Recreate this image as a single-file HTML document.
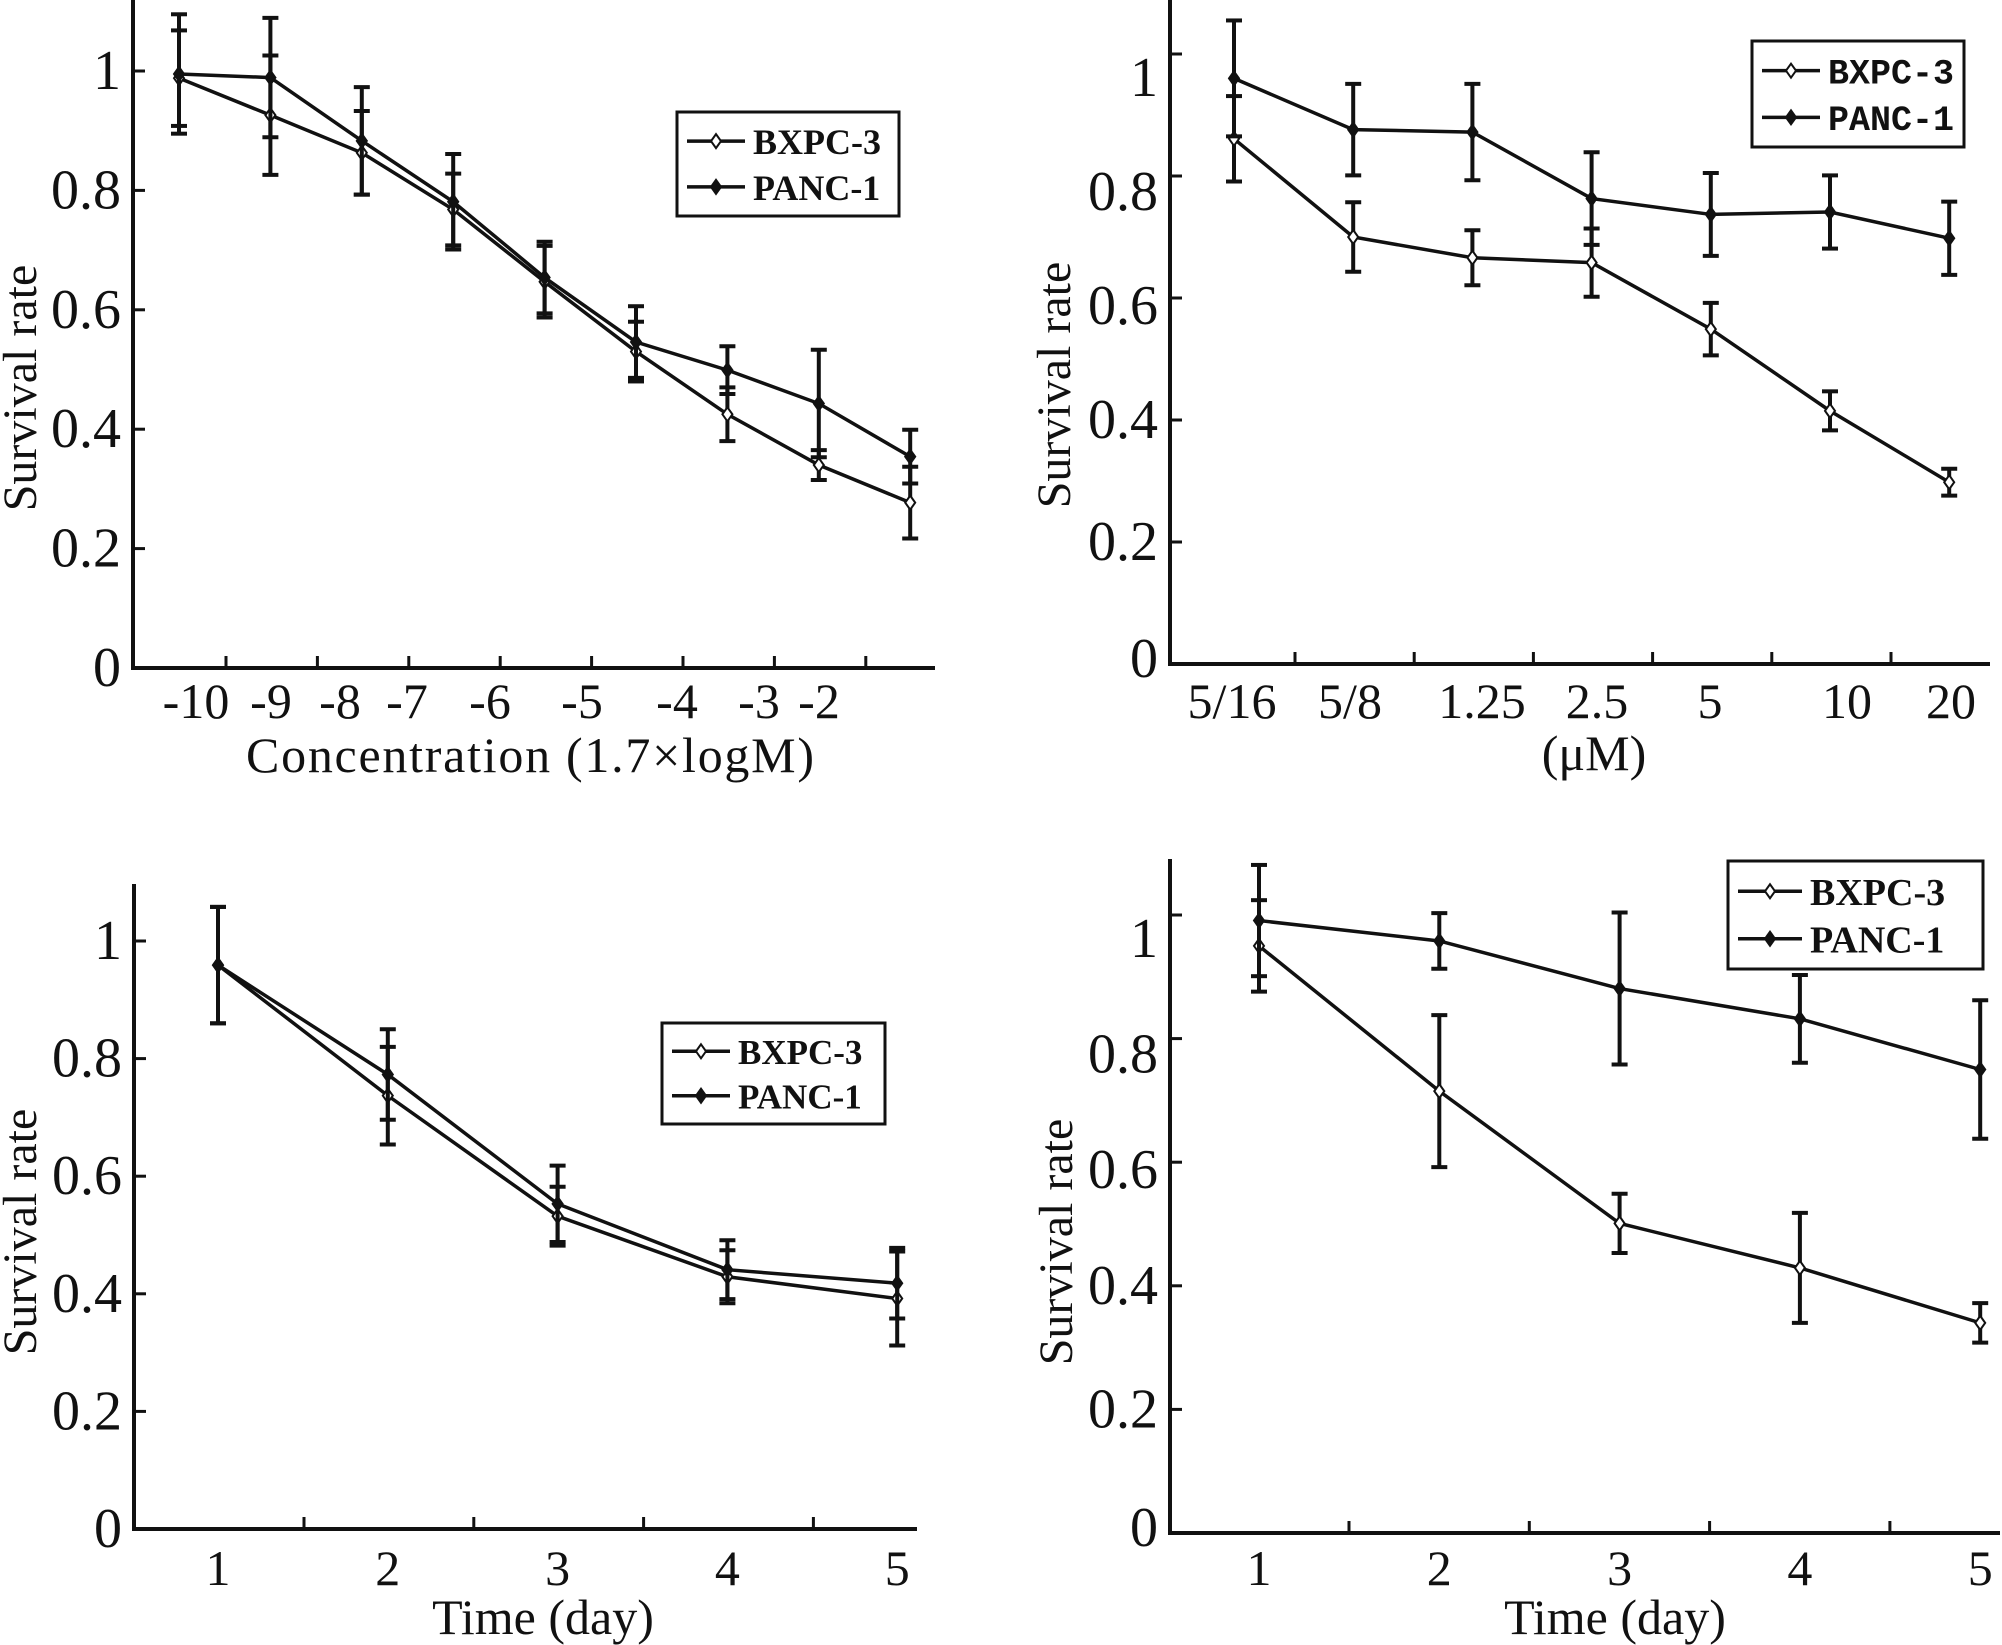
<!DOCTYPE html>
<html><head><meta charset="utf-8"><style>
html,body{margin:0;padding:0;background:#fff;}
svg{display:block;}
text{font-family:"Liberation Serif",serif;fill:#111;}
</style></head>
<body>
<svg id="fig" width="2002" height="1645" viewBox="0 0 2002 1645" xmlns="http://www.w3.org/2000/svg"></svg>
<script>
// Panel A (top-left)
const aCategories = ["-10","-9","-8","-7","-6","-5","-4","-3","-2"];
const aBxpc = [0.988,0.926,0.863,0.768,0.647,0.530,0.425,0.340,0.277];
const aBxpcErr = [0.08,0.10,0.07,0.06,0.06,0.05,0.045,0.025,0.06];
const aPanc = [0.995,0.989,0.883,0.781,0.654,0.546,0.499,0.443,0.354];
const aPancErr = [0.10,0.10,0.09,0.08,0.06,0.06,0.04,0.09,0.045];
// Panel B (top-right)
const bCategories = ["5/16","5/8","1.25","2.5","5","10","20"];
const bBxpc = [0.861,0.700,0.666,0.658,0.549,0.415,0.298];
const bBxpcErr = [0.07,0.057,0.045,0.056,0.043,0.032,0.022];
const bPanc = [0.960,0.876,0.872,0.763,0.737,0.741,0.698];
const bPancErr = [0.095,0.075,0.079,0.076,0.068,0.06,0.06];
// Panel C (bottom-left)
const cCategories = ["1","2","3","4","5"];
const cBxpc = [0.959,0.737,0.532,0.429,0.392];
const cBxpcErr = [0.099,0.083,0.05,0.045,0.08];
const cPanc = [0.959,0.773,0.553,0.441,0.418];
const cPancErr = [0.099,0.077,0.065,0.05,0.06];
// Panel D (bottom-right)
const dCategories = ["1","2","3","4","5"];
const dBxpc = [0.950,0.715,0.501,0.429,0.340];
const dBxpcErr = [0.074,0.123,0.048,0.089,0.032];
const dPanc = [0.991,0.958,0.881,0.832,0.750];
const dPancErr = [0.09,0.045,0.123,0.071,0.112];
const yTicks = [0,0.2,0.4,0.6,0.8,1];
const yTickLabels = ["0","0.2","0.4","0.6","0.8","1"];

const NS="http://www.w3.org/2000/svg";
const svg=document.getElementById('fig');
function mk(tag,attrs,parent){const e=document.createElementNS(NS,tag);for(const k in attrs)e.setAttribute(k,attrs[k]);(parent||svg).appendChild(e);return e;}

function panel(p){
  const g=mk('g',{});
  
  
  const y=v=>p.y0-(p.y0-p.y1)*v;
  const x=i=>p.px0+i*p.pdx;
  const ax=mk('path',{d:`M${p.ax},${p.top} L${p.ax},${p.y0} L${p.right},${p.y0}`,stroke:'#111','stroke-width':4,fill:'none'},g);
  
  
  yTicks.forEach((v,k)=>{
    if(v>0){mk('line',{x1:p.ax,x2:p.ax+12,y1:y(v),y2:y(v),stroke:'#111','stroke-width':3},g);}
    const off=p.labOff?Math.max(0,v-0.4)*40-(v===0?5:0):0;
    const t=mk('text',{x:p.ax-12,y:y(v)+off+18,'text-anchor':'end','font-size':56},g);
    t.textContent=yTickLabels[k];
    
    
  });
  for(let k=0;k<p.nTicks;k++){const tx=p.tx0+k*p.pdx;mk('line',{x1:tx,x2:tx,y1:p.y0,y2:p.y0-12,stroke:'#111','stroke-width':3},g);}
  p.cats.forEach((c,i)=>{
    const t=mk('text',{x:p.labX?p.labX[i]:x(i),y:p.labY,'text-anchor':'middle','font-size':50},g);
    t.textContent=c;
    
    
  });
  const yt=mk('text',{x:0,y:0,'text-anchor':'middle','font-size':48,transform:`translate(${p.ytx},${p.yty}) rotate(-90)`},g);
  yt.textContent='Survival rate';
  
  
  const xa={x:p.xtx,y:p.xty,'text-anchor':'middle','font-size':50};
  if(p.xtLen){xa.textLength=p.xtLen;xa.lengthAdjust='spacing';}
  const xt=mk('text',xa,g);
  xt.textContent=p.xtitle;
  
  
  [[p.bx,p.bxe,'#fff','series-bxpc-3'],[p.pa,p.pae,'#111','series-panc-1']].forEach(([vals,errs,fill,nm])=>{
    const sg=mk('g',{},g);
    
    
    vals.forEach((v,i)=>{
      const cx=x(i),e=errs[i];
      mk('line',{x1:cx,x2:cx,y1:y(v+e),y2:y(v-e),stroke:'#111','stroke-width':4},sg);
      mk('line',{x1:cx-8,x2:cx+8,y1:y(v+e),y2:y(v+e),stroke:'#111','stroke-width':4},sg);
      mk('line',{x1:cx-8,x2:cx+8,y1:y(v-e),y2:y(v-e),stroke:'#111','stroke-width':4},sg);
    });
    const pl=mk('polyline',{points:vals.map((v,i)=>x(i)+','+y(v)).join(' '),fill:'none',stroke:'#111','stroke-width':3.5},sg);
    
    
    vals.forEach((v,i)=>{
      const cx=x(i),cy=y(v);
      const m=mk('path',{d:`M${cx},${cy-7} L${cx+5},${cy} L${cx},${cy+7} L${cx-5},${cy} Z`,fill:fill,stroke:'#111','stroke-width':2},sg);
      
      
    });
  });
  const L=p.leg;
  const lg=mk('g',{},g);
  
  
  mk('rect',{x:L.x,y:L.y,width:L.w,height:L.h,fill:'#fff',stroke:'#111','stroke-width':3},lg);
  [['BXPC-3','#fff'],['PANC-1','#111']].forEach(([lab,fill],k)=>{
    const ly=L.y+L.h*(k===0?0.28:0.72);
    const lx=L.x+10;
    mk('line',{x1:lx,x2:lx+L.line,y1:ly,y2:ly,stroke:'#111','stroke-width':3.5},lg);
    const cx=lx+L.line/2;
    mk('path',{d:`M${cx},${ly-7} L${cx+5},${ly} L${cx},${ly+7} L${cx-5},${ly} Z`,fill:fill,stroke:'#111','stroke-width':2},lg);
    const t=mk('text',{x:lx+L.line+8,y:ly+L.fs*0.36,'font-size':L.fs,'font-weight':'bold',style:L.mono?'font-family:"Liberation Mono",monospace':''},lg);
    t.textContent=lab;
    
    
  });
}

panel({name:'panel-a',ax:133,top:0,y0:668,y1:71,right:935,px0:179,pdx:91.4,tx0:226,nTicks:8,
  cats:aCategories,labX:[196,271,340,407,490,582,677,759,819],labY:718,
  ytx:36,yty:388,xtx:530,xty:772,xtitle:'Concentration  (1.7×logM)',xtLen:568,
  bx:aBxpc,bxe:aBxpcErr,pa:aPanc,pae:aPancErr,
  leg:{x:677,y:112,w:222,h:104,line:58,fs:36}});
panel({name:'panel-b',ax:1170,top:0,y0:664,y1:54,right:1990,px0:1234,pdx:119.2,tx0:1295,nTicks:6,labOff:true,
  cats:bCategories,labX:[1232,1350,1482,1597,1710,1847,1951],labY:718,
  ytx:1070,yty:385,xtx:1594,xty:770,xtitle:'(μM)',
  bx:bBxpc,bxe:bBxpcErr,pa:bPanc,pae:bPancErr,
  leg:{x:1752,y:41,w:212,h:106,line:58,fs:35,mono:true}});
panel({name:'panel-c',ax:134,top:884,y0:1529,y1:941,right:917,px0:218,pdx:169.8,tx0:304,nTicks:4,
  cats:cCategories,labY:1585,
  ytx:36,yty:1232,xtx:543,xty:1634,xtitle:'Time (day)',
  bx:cBxpc,bxe:cBxpcErr,pa:cPanc,pae:cPancErr,
  leg:{x:662,y:1023,w:223,h:101,line:58,fs:35}});
panel({name:'panel-d',ax:1170,top:859,y0:1533,y1:915,right:2000,px0:1259,pdx:180.3,tx0:1349,nTicks:4,labOff:true,
  cats:dCategories,labY:1585,
  ytx:1072,yty:1242,xtx:1615,xty:1634,xtitle:'Time (day)',
  bx:dBxpc,bxe:dBxpcErr,pa:dPanc,pae:dPancErr,
  leg:{x:1728,y:861,w:255,h:108,line:64,fs:38}});
</script>
</body></html>
